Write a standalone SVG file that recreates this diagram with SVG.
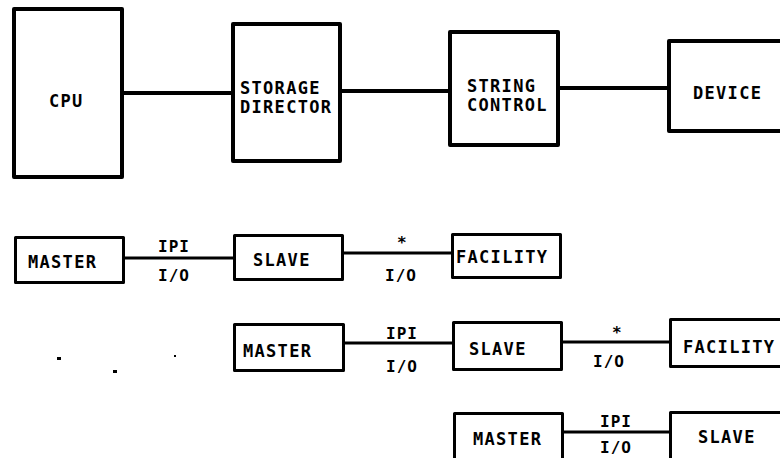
<svg xmlns="http://www.w3.org/2000/svg" width="780" height="458" viewBox="0 0 780 458">
<style>
.b{fill:#fff;stroke:#000;stroke-width:4;stroke-linejoin:round}
.s{fill:#fff;stroke:#000;stroke-width:3;stroke-linejoin:round}
.c{stroke:#000;stroke-width:4;fill:none}
.c3{stroke:#000;stroke-width:3;fill:none}
text{font-family:"DejaVu Sans Mono","Liberation Mono",monospace;font-weight:bold;font-size:17px;letter-spacing:1.3px;fill:#000}
.sm{font-size:16px;letter-spacing:1px}
</style>
<rect width="780" height="458" fill="#fff"/>
<g id="connectors">
<line class="c" x1="124" y1="93" x2="231" y2="93"/>
<line class="c" x1="342" y1="91" x2="448" y2="91"/>
<line class="c" x1="560" y1="88" x2="667" y2="88"/>
<line class="c3" x1="125" y1="258" x2="233" y2="258"/>
<line class="c3" x1="344" y1="253" x2="451" y2="253"/>
<line class="c3" x1="345" y1="343" x2="452" y2="343"/>
<line class="c3" x1="563" y1="342" x2="669" y2="342"/>
<line class="c3" x1="563" y1="432" x2="669" y2="432"/>
<text class="sm" x="158" y="252">IPI</text>
<text class="sm" x="158" y="281">I/O</text>
<text class="sm" x="397" y="248">*</text>
<text class="sm" x="385" y="281">I/O</text>
<text class="sm" x="386" y="339">IPI</text>
<text class="sm" x="386" y="372">I/O</text>
<text class="sm" x="612" y="338">*</text>
<text class="sm" x="593" y="367">I/O</text>
<text class="sm" x="600" y="427">IPI</text>
<text class="sm" x="600" y="453">I/O</text>
</g>
<g id="cpu"><rect class="b" x="14" y="9" width="108" height="168"/><text x="49" y="107">CPU</text></g>
<g id="storage-director"><rect class="b" x="233" y="24" width="107" height="137"/><text x="240" y="94">STORAGE</text><text x="240" y="113">DIRECTOR</text></g>
<g id="string-control"><rect class="b" x="450" y="32" width="108" height="113"/><text x="467" y="92">STRING</text><text x="467" y="111">CONTROL</text></g>
<g id="device"><rect class="b" x="669" y="41" width="113" height="90"/><text x="693" y="99">DEVICE</text></g>
<g id="master1"><rect class="s" x="15.5" y="237.5" width="108" height="45"/><text x="28" y="268">MASTER</text></g>
<g id="slave1"><rect class="s" x="234.5" y="235.5" width="108" height="44"/><text x="253" y="266">SLAVE</text></g>
<g id="facility1"><rect class="s" x="452.5" y="234.5" width="108" height="43"/><text x="456" y="263">FACILITY</text></g>
<g id="master2"><rect class="s" x="234.5" y="324.5" width="109" height="46"/><text x="243" y="357">MASTER</text></g>
<g id="slave2"><rect class="s" x="453.5" y="322.5" width="108" height="47"/><text x="469" y="355">SLAVE</text></g>
<g id="facility2"><rect class="s" x="670.5" y="319.5" width="120" height="47"/><text x="683" y="353">FACILITY</text></g>
<g id="master3"><rect class="s" x="454.5" y="413.5" width="108" height="60"/><text x="473" y="445">MASTER</text></g>
<g id="slave3"><rect class="s" x="670.5" y="412.5" width="120" height="60"/><text x="698" y="443">SLAVE</text></g>
<g id="marks"><rect x="57" y="357" width="4" height="3"/><rect x="113" y="370" width="4" height="3"/><rect x="174" y="355" width="2" height="2"/></g>
</svg>
